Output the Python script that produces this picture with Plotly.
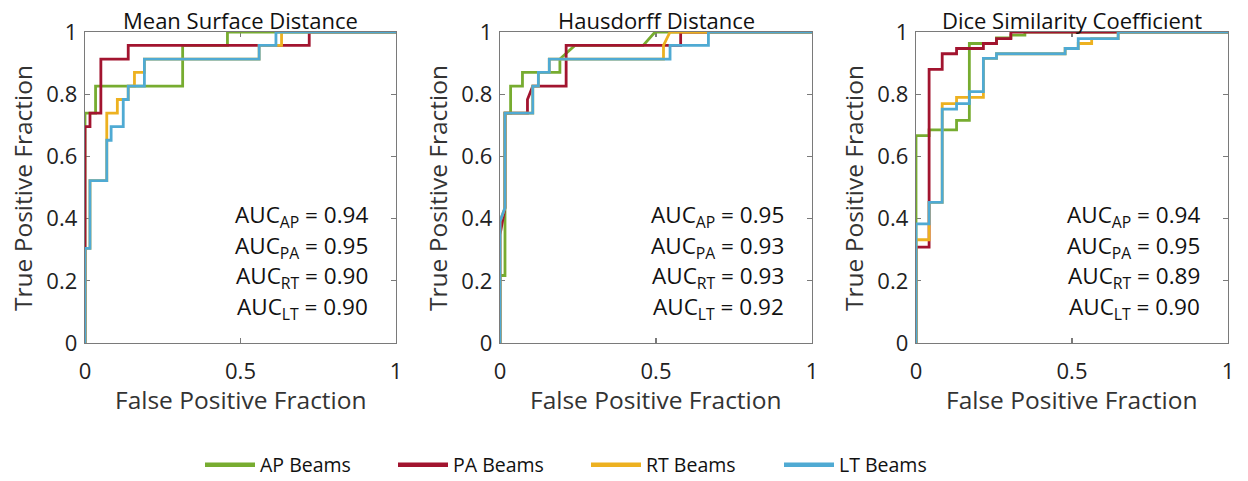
import plotly.graph_objects as go

# ---------------- data (ROC points) ----------------
panel_titles = ["Mean Surface Distance", "Hausdorff Distance", "Dice Similarity Coefficient"]
series_names = ["AP Beams", "PA Beams", "RT Beams", "LT Beams"]
auc_keys = ["AP", "PA", "RT", "LT"]

# Mean Surface Distance
msd_ap_fpr = [0, 0, 0.034, 0.034, 0.314, 0.314, 0.458, 0.458, 1]
msd_ap_tpr = [0, 0.739, 0.739, 0.826, 0.826, 0.957, 0.957, 1, 1]
msd_pa_fpr = [0, 0, 0.016, 0.016, 0.051, 0.051, 0.139, 0.139, 0.721, 0.721, 1]
msd_pa_tpr = [0, 0.696, 0.696, 0.739, 0.739, 0.913, 0.913, 0.957, 0.957, 1, 1]
msd_rt_fpr = [0, 0, 0.016, 0.016, 0.070, 0.070, 0.104, 0.104, 0.139, 0.139, 0.159, 0.159,
              0.191, 0.191, 0.560, 0.560, 0.632, 0.632, 1]
msd_rt_tpr = [0, 0.304, 0.304, 0.522, 0.522, 0.739, 0.739, 0.783, 0.783, 0.826, 0.826, 0.870,
              0.870, 0.913, 0.913, 0.957, 0.957, 1, 1]
msd_lt_fpr = [0, 0, 0.016, 0.016, 0.070, 0.070, 0.084, 0.084, 0.123, 0.123, 0.139, 0.139,
              0.191, 0.191, 0.560, 0.560, 0.614, 0.614, 1]
msd_lt_tpr = [0, 0.304, 0.304, 0.522, 0.522, 0.652, 0.652, 0.696, 0.696, 0.783, 0.783, 0.826,
              0.826, 0.913, 0.913, 0.957, 0.957, 1, 1]
msd_auc = [0.94, 0.95, 0.90, 0.90]

# Hausdorff Distance
hd_ap_fpr = [0, 0, 0.016, 0.016, 0.034, 0.034, 0.072, 0.072, 0.192, 0.192, 0.240, 0.459, 0.497, 1]
hd_ap_tpr = [0, 0.217, 0.217, 0.739, 0.739, 0.826, 0.826, 0.870, 0.870, 0.913, 0.957, 0.957, 1, 1]
hd_pa_fpr = [0, 0, 0.016, 0.016, 0.088, 0.088, 0.105, 0.212, 0.212, 0.579, 0.579, 1]
hd_pa_tpr = [0, 0.348, 0.435, 0.739, 0.739, 0.783, 0.826, 0.826, 0.957, 0.957, 1, 1]
hd_rt_fpr = [0, 0, 0.016, 0.016, 0.105, 0.105, 0.123, 0.123, 0.158, 0.158, 0.524, 0.524, 0.545, 1]
hd_rt_tpr = [0, 0.391, 0.435, 0.739, 0.739, 0.826, 0.826, 0.870, 0.870, 0.913, 0.913, 0.957, 1, 1]
hd_lt_fpr = [0, 0, 0.016, 0.016, 0.105, 0.105, 0.123, 0.123, 0.158, 0.158, 0.545, 0.545, 0.668, 0.668, 1]
hd_lt_tpr = [0, 0.391, 0.435, 0.739, 0.739, 0.826, 0.826, 0.870, 0.870, 0.913, 0.913, 0.957, 0.957, 1, 1]
hd_auc = [0.95, 0.93, 0.93, 0.92]

# Dice Similarity Coefficient
dsc_ap_fpr = [0, 0, 0.042, 0.042, 0.130, 0.130, 0.171, 0.171, 0.258, 0.258, 0.304, 0.304, 0.349, 0.349, 1]
dsc_ap_tpr = [0, 0.667, 0.667, 0.685, 0.685, 0.716, 0.716, 0.963, 0.963, 0.981, 0.981, 0.990, 0.990, 1, 1]
dsc_pa_fpr = [0, 0, 0.042, 0.042, 0.084, 0.084, 0.130, 0.130, 0.216, 0.216, 0.258, 0.258, 0.304, 0.304, 1]
dsc_pa_tpr = [0, 0.308, 0.308, 0.880, 0.880, 0.930, 0.930, 0.947, 0.947, 0.963, 0.963, 0.979, 0.979, 1, 1]
dsc_rt_fpr = [0, 0, 0.042, 0.042, 0.084, 0.084, 0.130, 0.130, 0.216, 0.216, 0.258, 0.258,
              0.478, 0.478, 0.520, 0.520, 0.563, 0.563, 0.648, 0.648, 1]
dsc_rt_tpr = [0, 0.332, 0.332, 0.452, 0.452, 0.770, 0.770, 0.790, 0.790, 0.915, 0.915, 0.930,
              0.930, 0.947, 0.947, 0.963, 0.963, 0.979, 0.979, 1, 1]
dsc_lt_fpr = [0, 0, 0.042, 0.042, 0.084, 0.084, 0.130, 0.130, 0.171, 0.171, 0.216, 0.216,
              0.258, 0.258, 0.478, 0.478, 0.520, 0.520, 0.648, 0.648, 1]
dsc_lt_tpr = [0, 0.383, 0.383, 0.452, 0.452, 0.752, 0.752, 0.770, 0.770, 0.808, 0.808, 0.915,
              0.915, 0.930, 0.930, 0.947, 0.947, 0.979, 0.979, 1, 1]
dsc_auc = [0.94, 0.95, 0.89, 0.90]

x_ticks = [0, 0.5, 1]
x_tick_labels = ["0", "0.5", "1"]
y_ticks = [0, 0.2, 0.4, 0.6, 0.8, 1]
y_tick_labels = ["0", "0.2", "0.4", "0.6", "0.8", "1"]

# ---------------- styling ----------------
colors = ["#77AC30", "#A2142F", "#EDB120", "#4FAAD3"]
FONT = "Open Sans"
W, H = 1248, 481
panel_px = [(85, 396), (500, 812), (916, 1228)]
top_px, bot_px = 32, 343

panels = [
    [(msd_ap_fpr, msd_ap_tpr), (msd_pa_fpr, msd_pa_tpr), (msd_rt_fpr, msd_rt_tpr), (msd_lt_fpr, msd_lt_tpr)],
    [(hd_ap_fpr, hd_ap_tpr), (hd_pa_fpr, hd_pa_tpr), (hd_rt_fpr, hd_rt_tpr), (hd_lt_fpr, hd_lt_tpr)],
    [(dsc_ap_fpr, dsc_ap_tpr), (dsc_pa_fpr, dsc_pa_tpr), (dsc_rt_fpr, dsc_rt_tpr), (dsc_lt_fpr, dsc_lt_tpr)],
]
aucs = [msd_auc, hd_auc, dsc_auc]

fig = go.Figure()
annotations = []
ydom = [(H - bot_px) / H, (H - top_px) / H]

for p, (series, auc) in enumerate(zip(panels, aucs)):
    xa = "x" if p == 0 else f"x{p+1}"
    ya = "y" if p == 0 else f"y{p+1}"
    for s, (fx, ty) in enumerate(series):
        fig.add_trace(go.Scatter(
            x=fx, y=ty, mode="lines", name=series_names[s],
            line=dict(color=colors[s], width=2.8),
            xaxis=xa, yaxis=ya, showlegend=False, hoverinfo="skip",
        ))
    x0, x1 = panel_px[p]
    axis_common = dict(
        range=[0, 1], showgrid=False, zeroline=False, showline=True,
        linecolor="#7a7a7a", linewidth=1.3, mirror="ticks", ticks="inside",
        ticklen=5, tickwidth=1.2, tickcolor="#7a7a7a", automargin=False,
        tickfont=dict(family=FONT, size=22, color="#222"), layer="below traces",
        fixedrange=True,
    )
    fig.update_layout(**{
        ("xaxis" if p == 0 else f"xaxis{p+1}"): dict(
            axis_common, domain=[x0 / W, x1 / W], anchor=ya,
            tickvals=x_ticks, ticktext=x_tick_labels, ticklabelstandoff=8),
        ("yaxis" if p == 0 else f"yaxis{p+1}"): dict(
            axis_common, domain=ydom, anchor=xa,
            tickvals=y_ticks, ticktext=y_tick_labels, ticklabelstandoff=2),
    })
    cx = (x0 + x1) / 2
    annotations.append(dict(
        text=panel_titles[p], x=cx / W, y=(H - 20) / H, xref="paper", yref="paper",
        xanchor="center", yanchor="middle", showarrow=False,
        font=dict(family=FONT, size=22, color="#111")))
    annotations.append(dict(
        text="False Positive Fraction", x=cx / W, y=(H - 399) / H, xref="paper", yref="paper",
        xanchor="center", yanchor="middle", showarrow=False,
        font=dict(family=FONT, size=24.5, color="#333")))
    annotations.append(dict(
        text="True Positive Fraction", x=(x0 - 63) / W, y=(H - 188) / H, xref="paper", yref="paper",
        xanchor="center", yanchor="middle", showarrow=False, textangle=-90,
        font=dict(family=FONT, size=24.5, color="#333")))
    for k in range(4):
        annotations.append(dict(
            text=f"AUC<sub>{auc_keys[k]}</sub> = {auc[k]:.2f}",
            x=(x1 - 26) / W, y=(H - (216 + 30.5 * k)) / H, xref="paper", yref="paper",
            xanchor="right", yanchor="middle", showarrow=False,
            font=dict(family=FONT, size=22.5, color="#111")))

for s in range(4):
    fig.add_trace(go.Scatter(
        x=[None], y=[None], mode="lines", name=series_names[s],
        line=dict(color=colors[s], width=4.5), showlegend=True, legendrank=s,
    ))

fig.update_layout(
    width=W, height=H, autosize=False, template="none",
    margin=dict(l=0, r=0, t=0, b=0, pad=0, autoexpand=False),
    paper_bgcolor="white", plot_bgcolor="white",
    annotations=annotations,
    legend=dict(
        orientation="h", x=200 / W, y=(H - 465) / H, xanchor="left", yanchor="middle",
        entrywidth=128, entrywidthmode="pixels", itemwidth=50,
        font=dict(family=FONT, size=19.5, color="#111"), bgcolor="rgba(0,0,0,0)",
    ),
    showlegend=True,
)

fig.write_html("out.html",
               config={"displayModeBar": False, "staticPlot": True, "responsive": False},
               post_script="document.body.style.margin='0';")
